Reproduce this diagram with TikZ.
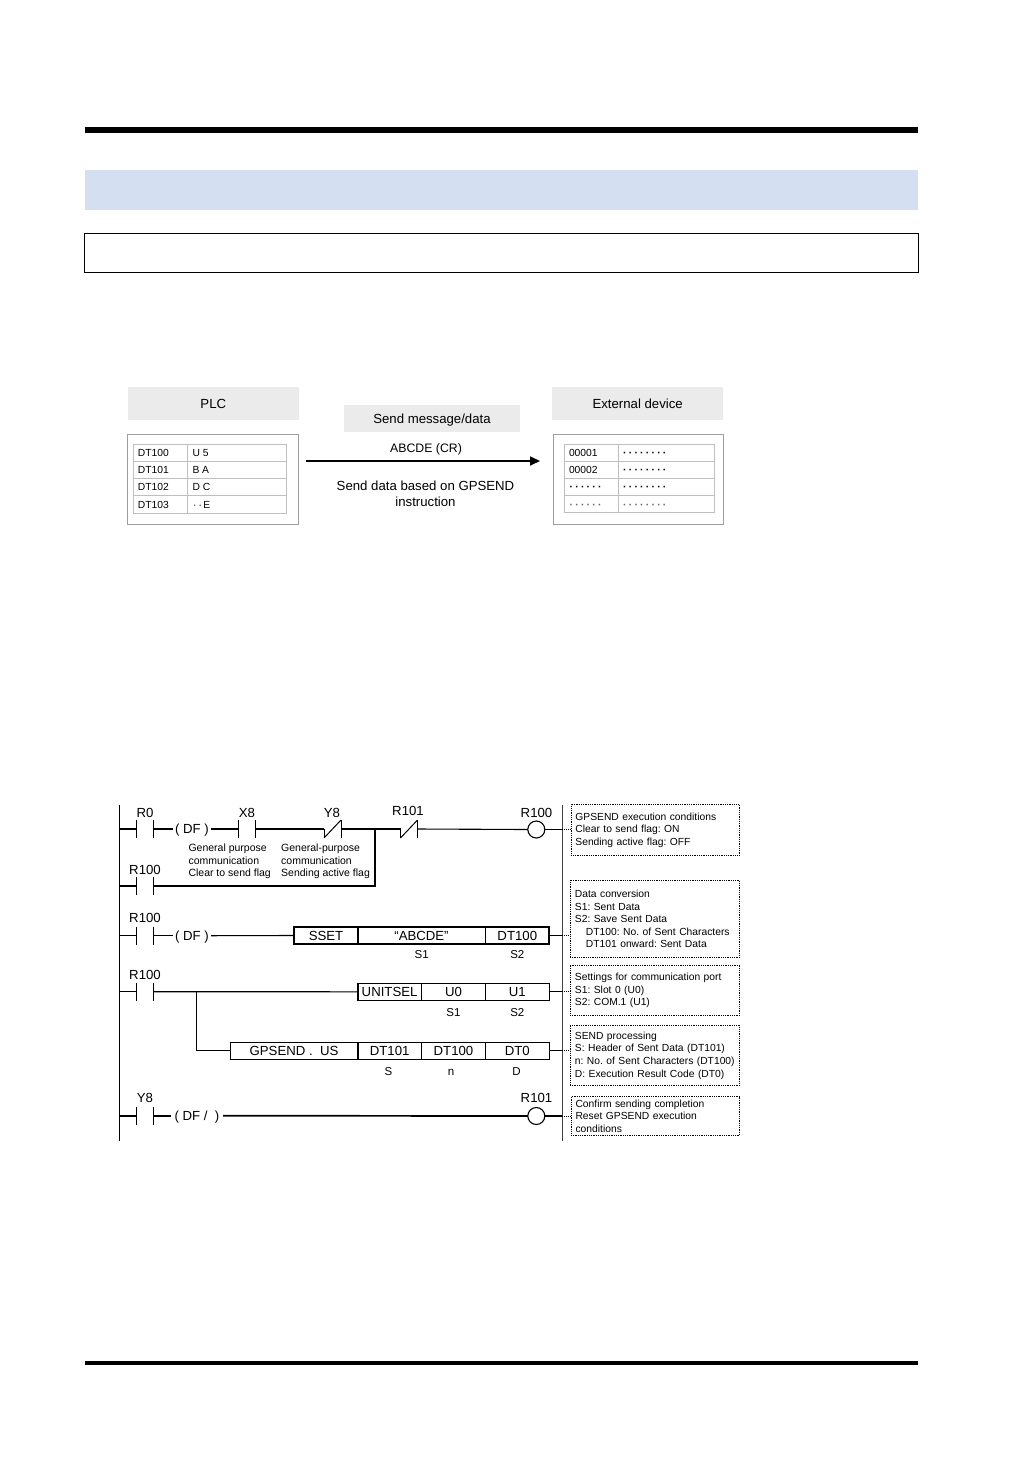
\documentclass[tikz,border=0pt]{standalone}
\usepackage{fontspec}
\setmainfont{Liberation Sans}
\usepackage{xcolor}
\usetikzlibrary{arrows.meta}
\usetikzlibrary{positioning}
\definecolor{bandblue}{HTML}{D4DFF2}
\definecolor{headgray}{HTML}{EBEBEB}
\frenchspacing
\newcommand{\contact}[3]{%
        \node[contact] (#1) at (#2,#3) {};
        \draw[bar] (#1.north west) -- (#1.south west) (#1.north east) -- (#1.south east);}
\newcommand{\ncontact}[3]{%
        \node[contact] (#1) at (#2,#3) {};
        \draw[bar] (#1.west) -- (#1.south west) (#1.north east) -- (#1.south east);
        \draw[bar] (#1.south west) -- (#1.north east);}
\newcommand{\dotrow}[1]{\foreach \i in {1,...,#1}{·\kern2.25pt}}
\newcommand{\boldrow}[1]{\bfseries\foreach \i in {1,...,#1}{·\kern2.25pt}}
\tikzset{
        contact/.style={minimum width=17pt, minimum height=18pt, inner sep=0, outer sep=0},
        bar/.style={line width=1pt},
        wire/.style={line width=1.1pt},
        heavywire/.style={line width=1.7pt},
        coil/.style={draw, circle, line width=1.1pt, minimum size=17pt, inner sep=0, outer sep=0, fill=white},
        big/.style={font=\fontsize{13.2}{15}\selectfont, inner sep=0, text height=9.5pt, text depth=0pt},
        small/.style={font=\fontsize{10.3}{12.6}\selectfont, inner sep=0, text height=7.4pt, text depth=0pt},
        tag/.style={font=\fontsize{11.5}{13}\selectfont, inner sep=0, text height=8.3pt, text depth=0pt},
        mid/.style={font=\fontsize{12.3}{16.5}\selectfont, inner sep=0},
        flag/.style={font=\fontsize{10.5}{12.5}\selectfont, inner sep=0, align=left, anchor=north west},
        cell/.style={draw, line width=1pt, big, minimum height=17pt, outer sep=0},
        note/.style={draw, line width=.9pt, dash pattern=on .9pt off .9pt, font=\fontsize{10.3}{12.6}\selectfont,
                align=left, inner xsep=4.25pt, inner ysep=0, anchor=north west, text width=159.5pt},
        notelink/.style={line width=.7pt, dash pattern=on .9pt off .9pt},
        head/.style={fill=headgray, big, outer sep=0},
        frame/.style={draw=black!38, line width=1.1pt},
        grid/.style={draw=black!25, line width=1pt}
}
\begin{document}
\begin{tikzpicture}[x=1pt, y=-1pt]
        \useasboundingbox[fill=white] (0,0) rectangle (1032,1457);
        % page furniture
        \fill[black] (85,127) rectangle (918,133);
        \fill[bandblue] (85,170) rectangle (918,210);
        \draw[line width=1.1pt] (84.5,233.5) rectangle (918.5,272.5);
        \fill[black] (85,1361) rectangle (918,1364.5);

        % message overview
        \node[head, minimum width=171pt, minimum height=33pt] (plc) at (213.3,403.7) {PLC};
        \node[head, minimum width=176pt, minimum height=27pt] (msg) at (432,418.3) {Send message/data};
        \node[head, minimum width=171pt, minimum height=33pt] (ext) at (637.7,403.7) {External device};
        \draw[frame] (127.7,434.3) rectangle (298.5,524.3);
        \draw[frame] (553.7,434.3) rectangle (723.7,524.3);
        \draw[grid] (133.3,444.3) rectangle (286.3,513.3);
        \draw[grid] (133.3,461.3) -- (286.3,461.3) (133.3,478.3) -- (286.3,478.3) (133.3,495.7) -- (286.3,495.7);
        \draw[grid] (187.3,444.3) -- (187.3,513.3);
        \draw[grid] (564.3,444.3) rectangle (714.7,512.7);
        \draw[grid] (564.3,461.3) -- (714.7,461.3) (564.3,478.3) -- (714.7,478.3) (564.3,495) -- (714.7,495);
        \draw[grid] (618.3,444.3) -- (618.3,512.7);

        \node[small, anchor=west] (dta) at (137.7,453) {DT100};
        \node[small, anchor=west] (dtb) at (137.7,470) {DT101};
        \node[small, anchor=west] (dtc) at (137.7,487) {DT102};
        \node[small, anchor=west] (dtd) at (137.7,504.5) {DT103};
        \node[small, anchor=west] (vala) at (192.3,453) {U 5};
        \node[small, anchor=west] (valb) at (192.3,470) {B A};
        \node[small, anchor=west] (valc) at (192.3,487) {D C};
        \node[small, anchor=west] (vald) at (192.8,504.5) {\dotrow{2}\kern-1pt E};

        \node[small, anchor=west] (addra) at (568.8,453) {00001};
        \node[small, anchor=west] (addrb) at (568.8,470) {00002};
        \node[small, anchor=west] (addrc) at (569.5,487) {\boldrow{6}};
        \node[small, anchor=west, text=black!60] (addrd) at (569.5,504.5) {\boldrow{6}};
        \node[small, anchor=west] (cola) at (623,453) {\boldrow{8}};
        \node[small, anchor=west] (colb) at (623,470) {\boldrow{8}};
        \node[small, anchor=west] (colc) at (623,487) {\boldrow{8}};
        \node[small, anchor=west, text=black!60] (cold) at (623,504.5) {\boldrow{8}};

        \coordinate (sendfrom) at (306,461);
        \coordinate (sendto) at (540,461);
        \draw[line width=1.7pt, -{Triangle[length=10pt, width=9pt]}] (sendfrom) -- (sendto);
        \node[mid] (abcde) at (426,449.5) {ABCDE (CR)};
        \node[font=\fontsize{13.2}{16.5}\selectfont, inner sep=0, align=center] (basedon) at (425.5,494) {Send data based on GPSEND\\instruction};

        % ladder rails
        \coordinate (raill) at (119.7,805);
        \coordinate (railr) at (562.3,805);
        \draw[line width=1.2pt] (raill) -- (119.7,1140.5);
        \draw[line width=1.5pt, black!75] (railr) -- (562.3,1140.5);

        % rung 1
        \contact{rzero}{144.7}{829}
        \node[big, minimum width=38pt] (dfa) at (192,829) {( DF )};
        \contact{xeight}{246.8}{829}
        \ncontact{yeight}{332.5}{829}
        \ncontact{rnot}{409}{829}
        \node[coil] (coila) at (536.3,829.5) {};
        \draw[wire] (rzero.west -| raill) -- (rzero.west);
        \draw[wire] (rzero.east) -- (dfa.west);
        \draw[wire] (dfa.east) -- (xeight.west);
        \draw[wire] (xeight.east) -- (yeight.west);
        \draw[wire] (yeight.east) -- (rnot.west);
        \draw[wire] (rnot.east) -- (coila.west);
        \draw[wire] (coila.east) -- (coila.east -| railr);
        \node[big] (lrzero) at (145,812.7) {R0};
        \node[big] (lxeight) at (247,812.7) {X8};
        \node[big] (lyeight) at (332,812.7) {Y8};
        \node[big] (lrnot) at (408,811) {R101};
        \node[big] (lcoila) at (536.5,812.7) {R100};
        \node[flag] (flaga) at (188.3,843.8) {General purpose\\communication\\Clear to send flag};
        \node[flag] (flagb) at (281,843.8) {General-purpose\\communication\\Sending active flag};

        % rung 2
        \contact{rhold}{144.7}{886}
        \coordinate (joint) at (375,829);
        \draw[wire] (rhold.west -| raill) -- (rhold.west);
        \draw[heavywire] (rhold.east) -- (rhold.east -| joint) -- (joint);
        \node[big] (lrhold) at (145,870) {R100};

        % rung 3
        \contact{rconv}{144.7}{935.7}
        \node[big, minimum width=38pt] (dfb) at (192,935.7) {( DF )};
        \node[cell, minimum width=63.4pt] (sset) at (326,935.5) {SSET};
        \node[cell, minimum width=127.6pt] (strg) at (421.5,935.5) {“ABCDE”};
        \node[cell, minimum width=64pt] (ssetd) at (517.3,935.5) {DT100};
        \draw[line width=1.9pt] (sset.north west) rectangle (ssetd.south east);
        \draw[line width=1.9pt] (sset.north east) -- (sset.south east);
        \draw[wire] (rconv.west -| raill) -- (rconv.west);
        \draw[wire] (rconv.east) -- (dfb.west);
        \draw[wire] (dfb.east) -- (sset.west);
        \draw[wire] (ssetd.east) -- (ssetd.east -| railr);
        \node[big] (lrconv) at (145,918) {R100};
        \node[tag] (lsa) at (421.7,954.5) {S1};
        \node[tag] (lsb) at (517.3,954.5) {S2};

        % rung 4 and branch
        \contact{rsend}{144.7}{991.7}
        \node[cell, minimum width=64pt] (unitsel) at (389.6,991.8) {UNITSEL};
        \node[cell, minimum width=63.6pt] (unita) at (453.5,991.8) {U0};
        \node[cell, minimum width=64pt] (unitb) at (517.3,991.8) {U1};
        \draw[line width=1.9pt] (unitsel.north west) -- (unitsel.south west);
        \coordinate (branch) at (196.7,991.7);
        \draw[wire] (rsend.west -| raill) -- (rsend.west);
        \draw[wire] (rsend.east) -- (unitsel.west);
        \draw[wire] (unitb.east) -- (unitb.east -| railr);
        \node[big] (lrsend) at (145,975) {R100};
        \node[tag] (lsc) at (453.5,1012) {S1};
        \node[tag] (lsd) at (517.3,1012) {S2};

        \node[cell, minimum width=127.4pt] (gps) at (294,1050.8) {GPSEND\ .\ \ US};
        \node[cell, minimum width=64pt] (gpsa) at (389.7,1050.8) {DT101};
        \node[cell, minimum width=63.6pt] (gpsb) at (453.5,1050.8) {DT100};
        \node[cell, minimum width=64pt] (gpsc) at (517.3,1050.8) {DT0};
        \draw[line width=1.9pt] (gps.north east) -- (gps.south east);
        \draw[wire] (branch) |- (gps.west);
        \draw[wire] (gpsc.east) -- (gpsc.east -| railr);
        \node[tag] (lse) at (388.5,1071) {S};
        \node[tag] (lsf) at (451,1071) {n};
        \node[tag] (lsg) at (516.5,1071) {D};

        % rung 5
        \contact{rdone}{144.7}{1115.7}
        \node[big, minimum width=52pt] (dfc) at (197,1115.7) {( DF /\ \ )};
        \node[coil] (coilb) at (536.3,1116) {};
        \draw[heavywire] (rdone.west -| raill) -- (rdone.west);
        \draw[heavywire] (rdone.east) -- (dfc.west);
        \draw[heavywire] (dfc.east) -- (coilb.west);
        \draw[heavywire] (coilb.east) -- (coilb.east -| railr);
        \node[big] (lrdone) at (145,1098) {Y8};
        \node[big] (lcoilb) at (536.5,1098) {R101};

        % comment boxes
        \node[note, minimum width=168pt, minimum height=51pt] (notea) at (570.7,804) {GPSEND execution conditions\\Clear to send flag: ON\\Sending active flag: OFF};
        \node[note, minimum width=169.5pt, minimum height=77pt] (noteb) at (569.5,880) {Data conversion\\S1: Sent Data\\S2: Save Sent Data\\\hspace*{11pt}DT100: No. of Sent Characters\\\hspace*{11pt}DT101 onward: Sent Data};
        \node[note, minimum width=169.5pt, minimum height=50.5pt] (notec) at (569.5,964.7) {Settings for communication port\\S1: Slot 0 (U0)\\S2: COM.1 (U1)};
        \node[note, minimum width=169.5pt, minimum height=60pt] (noted) at (569.5,1025) {SEND processing\\S: Header of Sent Data (DT101)\\\mbox{n: No. of Sent Characters (DT100)}\\D: Execution Result Code (DT0)};
        \node[note, line width=1.1pt, minimum width=168.5pt, minimum height=39pt] (notee) at (570.5,1096) {Confirm sending completion\\Reset GPSEND execution\\conditions};
        \draw[notelink] (coila.east -| railr) -- (coila.east -| notea.west);
        \draw[notelink] (ssetd.east -| railr) -- (ssetd.east -| noteb.west);
        \draw[notelink] (unitb.east -| railr) -- (unitb.east -| notec.west);
        \draw[notelink] (gpsc.east -| railr) -- (gpsc.east -| noted.west);
        \draw[notelink] (coilb.east -| railr) -- (coilb.east -| notee.west);
\end{tikzpicture}
\end{document}
